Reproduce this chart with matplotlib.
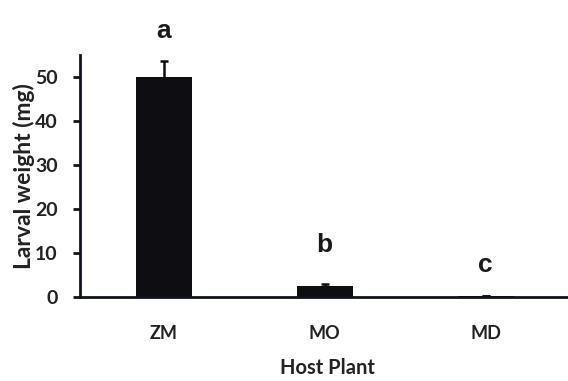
import matplotlib
matplotlib.use("Agg")
import matplotlib.pyplot as plt

categories = ["ZM", "MO", "MD"]
weights = [50.0, 2.5, 0.2]
errors = [3.6, 0.5, 0.0]
letters = ["a", "b", "c"]
letter_y = [60.5, 11.7, 7.2]
yticks = [0, 10, 20, 30, 40, 50]

fig = plt.figure(figsize=(5.68, 3.81), dpi=100)
ax = fig.add_axes([0.141, 0.221, 0.87, 0.635])

x = list(range(len(categories)))
ax.bar(x, weights, width=0.35, color="#0d0d12", yerr=errors,
       error_kw=dict(ecolor="#0d0d12", elinewidth=1.8, capsize=3, capthick=1.8),
       zorder=2)

for xi, lt, ly in zip(x, letters, letter_y):
    ax.text(xi, ly, lt, ha="center", va="center", fontsize=19, fontweight="bold",
            family="Liberation Sans", color="#1a1a1a", clip_on=False)

ax.set_xlim(-0.52, 2.55)
ax.set_ylim(0, 55)
ax.set_yticks(yticks)
ax.set_xticks(x)
ax.set_xticklabels(categories)

for s in ["top", "right"]:
    ax.spines[s].set_visible(False)
for s in ["left", "bottom"]:
    ax.spines[s].set_linewidth(2)
    ax.spines[s].set_color("#10141c")

ax.tick_params(axis="y", length=5, width=2, color="#10141c", labelsize=14, pad=11)
ax.tick_params(axis="x", length=0, labelsize=13, pad=20)
for lab in ax.get_yticklabels() + ax.get_xticklabels():
    lab.set_family("Lato")
    lab.set_fontweight("bold")
    lab.set_color("#222222")

ax.set_xlabel("Host Plant", family="Lato", fontweight="bold", fontsize=14.5, color="#222222", labelpad=12)
ax.set_ylabel("Larval weight (mg)", family="Lato", fontweight="bold", fontsize=16.5, color="#222222", labelpad=0)

fig.savefig("out.png", dpi=100)
